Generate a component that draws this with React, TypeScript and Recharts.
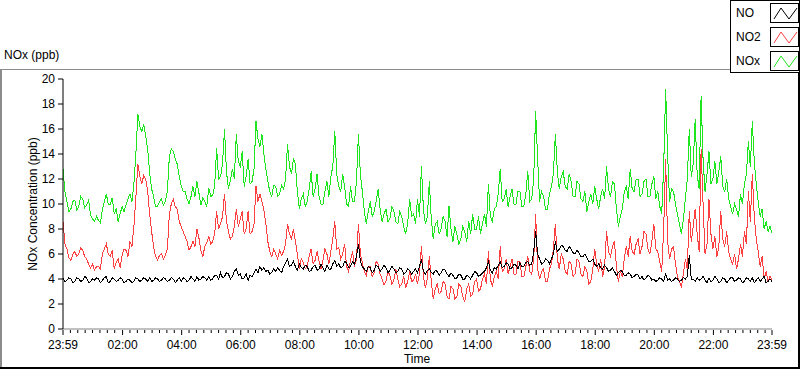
import React from "react";
import { LineChart, Line, XAxis, YAxis, Legend } from "recharts";

// one reading every 4 minutes, from 23:59 to 23:59 the next day (361 readings)
const NO = [
  4.1, 3.8, 3.9, 4.1, 4.0, 3.7, 3.8, 4.1, 4.0, 3.8, 3.9, 4.2, 4.1, 3.7, 3.8, 4.0, 3.9, 4.1, 4.0, 3.7,
  3.9, 4.1, 4.2, 3.7, 3.8, 4.1, 4.0, 3.8, 3.9, 4.1, 4.0, 3.7, 3.8, 4.0, 3.9, 3.7, 3.8, 4.1, 4.0, 3.8,
  3.9, 4.1, 4.0, 3.8, 4.1, 3.8, 3.9, 4.1, 4.0, 3.8, 3.9, 4.1, 4.0, 3.8, 3.9, 4.1, 4.0, 3.7, 3.9, 4.1,
  3.8, 4.1, 4.0, 3.8, 3.9, 4.2, 4.0, 3.8, 4.2, 3.9, 4.0, 4.2, 4.1, 3.9, 4.2, 3.9, 4.0, 4.3, 4.3, 4.0,
  4.5, 4.1, 4.2, 4.5, 4.4, 4.0, 4.2, 4.6, 4.8, 4.3, 4.4, 4.0, 4.1, 4.4, 3.9, 4.3, 4.2, 4.5, 4.8, 4.5,
  5.0, 4.7, 4.9, 4.6, 4.7, 4.4, 4.5, 4.8, 4.6, 4.9, 4.7, 4.5, 5.0, 5.3, 5.6, 5.0, 5.1, 5.4, 5.0, 4.7,
  5.2, 4.9, 4.8, 5.1, 5.0, 4.6, 4.7, 5.0, 5.1, 4.7, 4.8, 5.2, 4.9, 4.6, 5.1, 4.8, 4.8, 5.2, 5.5, 5.0,
  5.2, 4.9, 5.0, 5.4, 5.3, 4.9, 5.0, 5.4, 5.2, 5.8, 6.8, 5.4, 5.0, 4.8, 4.6, 5.0, 4.9, 4.5, 4.7, 5.1,
  5.0, 4.6, 4.8, 5.1, 4.9, 4.5, 4.7, 5.0, 4.8, 4.5, 4.6, 4.9, 4.8, 4.4, 4.5, 4.8, 4.7, 4.4, 4.6, 4.8,
  4.5, 5.0, 5.6, 4.6, 4.4, 4.7, 4.8, 4.5, 4.4, 4.7, 4.6, 4.3, 4.5, 4.8, 4.7, 4.4, 4.2, 4.5, 4.3, 4.0,
  4.1, 4.4, 4.3, 4.0, 4.0, 4.3, 4.2, 4.0, 4.3, 4.6, 4.5, 4.2, 4.3, 4.5, 4.6, 4.9, 5.4, 4.7, 4.5, 4.9,
  4.8, 5.1, 5.4, 4.9, 5.0, 5.3, 5.2, 4.8, 4.9, 5.2, 5.1, 4.8, 5.3, 5.0, 5.0, 5.3, 5.4, 5.1, 5.2, 6.2,
  7.8, 6.0, 5.6, 5.2, 5.3, 5.6, 5.5, 5.2, 5.6, 6.0, 7.0, 6.2, 6.4, 6.7, 6.6, 6.3, 6.2, 6.6, 6.4, 6.1,
  6.0, 6.3, 6.1, 5.8, 5.8, 6.0, 5.7, 5.4, 5.4, 5.6, 5.2, 5.0, 5.2, 4.9, 4.8, 5.1, 4.9, 4.6, 4.7, 4.9,
  4.6, 4.3, 4.5, 4.7, 4.6, 4.3, 4.3, 4.5, 4.4, 4.1, 4.2, 4.4, 4.3, 4.0, 4.2, 3.9, 4.1, 4.3, 4.2, 3.9,
  4.0, 3.8, 3.9, 4.1, 4.0, 3.8, 4.4, 3.9, 4.0, 3.8, 3.9, 4.1, 4.0, 3.8, 3.9, 4.1, 4.0, 4.2, 5.9, 4.0,
  4.0, 3.8, 4.1, 3.9, 4.0, 4.2, 3.9, 3.7, 4.1, 3.8, 3.9, 4.2, 4.0, 3.7, 3.8, 4.1, 4.0, 3.7, 3.9, 4.1,
  4.1, 3.8, 3.9, 4.1, 4.0, 3.7, 3.8, 4.1, 4.0, 3.8, 4.1, 3.7, 3.9, 4.1, 3.8, 4.0, 4.2, 3.7, 3.8, 4.0,
  3.8,
];

const NO2 = [
  8.6, 6.8, 6.4, 5.7, 5.5, 6.0, 6.2, 5.8, 6.0, 6.5, 6.3, 5.8, 5.6, 5.2, 4.9, 5.2, 4.7, 5.0, 5.0, 4.8,
  6.0, 6.4, 6.8, 6.0, 5.8, 6.3, 4.8, 5.3, 5.6, 4.9, 5.9, 6.4, 6.3, 5.8, 7.0, 6.6, 8.2, 10.5, 13.2, 12.2,
  11.6, 12.3, 12.0, 11.0, 9.2, 7.8, 6.6, 5.8, 5.5, 5.9, 6.0, 5.6, 5.9, 6.4, 9.2, 10.0, 10.4, 9.8, 9.6, 8.6,
  8.2, 7.8, 7.4, 7.0, 6.3, 6.6, 7.0, 6.6, 8.0, 7.3, 6.3, 5.8, 6.6, 6.9, 7.4, 6.8, 7.0, 7.6, 9.4, 8.0,
  8.4, 9.0, 10.8, 8.6, 7.8, 7.2, 7.4, 8.2, 9.6, 8.2, 8.8, 9.4, 7.6, 8.0, 9.4, 7.6, 7.8, 8.4, 11.4, 10.2,
  10.8, 10.2, 9.5, 8.4, 7.0, 6.2, 5.8, 6.4, 6.0, 5.6, 6.3, 5.9, 6.2, 6.8, 8.4, 7.6, 7.2, 8.0, 7.0, 6.0,
  4.8, 5.6, 5.3, 4.8, 5.0, 5.8, 6.4, 5.2, 5.5, 6.2, 5.4, 4.8, 5.5, 6.4, 6.0, 5.2, 6.2, 7.2, 8.6, 6.4,
  6.5, 5.6, 6.0, 6.8, 5.0, 4.6, 5.5, 6.2, 5.0, 5.6, 8.4, 6.0, 5.3, 4.6, 4.3, 5.0, 5.0, 4.2, 4.5, 5.4,
  5.2, 4.4, 4.0, 3.5, 3.8, 4.6, 4.3, 3.6, 3.9, 4.8, 4.0, 3.4, 3.6, 4.2, 3.3, 3.8, 4.6, 3.8, 3.9, 4.4,
  3.6, 4.4, 6.6, 4.2, 3.3, 4.0, 5.8, 3.8, 2.4, 3.2, 3.6, 2.8, 3.0, 3.8, 3.6, 2.6, 2.4, 3.4, 3.2, 2.4,
  2.6, 3.6, 3.4, 2.6, 2.2, 3.2, 3.6, 2.6, 2.8, 3.8, 4.0, 3.0, 3.2, 4.0, 4.4, 3.6, 6.2, 4.0, 3.4, 4.2,
  4.6, 4.0, 6.6, 4.6, 4.8, 5.6, 4.4, 5.0, 5.6, 4.4, 4.4, 5.4, 5.4, 4.2, 4.2, 5.0, 5.8, 4.6, 4.4, 5.6,
  9.2, 4.8, 4.0, 4.6, 4.8, 3.8, 3.8, 4.8, 5.2, 6.4, 8.4, 5.6, 4.8, 6.0, 5.6, 4.6, 4.4, 5.4, 5.2, 4.2,
  4.4, 5.6, 5.4, 4.4, 4.2, 5.0, 4.6, 3.6, 3.8, 4.8, 6.4, 5.2, 4.6, 5.6, 4.2, 5.0, 7.8, 6.2, 5.8, 6.6,
  7.0, 5.0, 3.8, 4.6, 4.2, 5.6, 6.6, 5.8, 7.4, 6.2, 6.0, 6.8, 7.2, 6.0, 6.6, 7.8, 7.6, 6.4, 6.0, 7.0,
  8.4, 6.4, 6.2, 5.4, 4.6, 8.0, 13.6, 7.0, 5.6, 6.4, 6.6, 5.2, 4.2, 3.8, 3.4, 4.4, 5.6, 4.8, 9.4, 7.0,
  8.2, 9.6, 7.6, 6.2, 14.4, 10.0, 6.0, 6.8, 10.4, 7.6, 6.4, 7.4, 5.8, 6.6, 9.4, 7.2, 6.6, 7.8, 6.2, 5.6,
  5.2, 6.0, 4.8, 5.6, 6.8, 5.8, 7.8, 6.8, 11.0, 8.6, 12.4, 9.0, 7.2, 6.2, 5.0, 5.8, 4.0, 4.6, 3.8, 4.2,
  3.9,
];

const NOX = [
  12.8, 11.0, 10.2, 9.4, 9.6, 10.2, 10.3, 9.5, 9.8, 10.6, 10.4, 9.7, 9.9, 10.3, 9.1, 8.8, 8.6, 9.0, 8.7, 8.5,
  9.6, 10.2, 10.8, 10.0, 10.0, 10.5, 9.2, 9.6, 8.6, 9.2, 9.8, 9.4, 9.9, 10.4, 10.8, 10.2, 11.6, 14.0, 17.2, 16.2,
  15.8, 16.4, 15.4, 14.4, 12.5, 11.2, 10.6, 9.8, 9.8, 10.2, 10.4, 9.9, 10.2, 11.0, 13.8, 14.4, 14.2, 13.6, 13.2, 12.2,
  11.5, 11.0, 11.0, 10.4, 10.0, 10.6, 11.4, 10.6, 11.8, 10.9, 9.9, 10.5, 10.2, 9.8, 11.3, 10.6, 10.7, 11.4, 14.5, 12.0,
  12.2, 13.2, 16.0, 12.6, 11.2, 11.9, 12.8, 12.0, 15.6, 13.4, 13.0, 14.2, 11.4, 12.2, 13.6, 11.6, 11.8, 12.8, 16.6, 15.2,
  14.6, 15.6, 14.0, 12.8, 11.8, 11.0, 10.6, 11.5, 11.4, 10.6, 10.8, 11.5, 11.2, 12.0, 14.8, 13.0, 12.4, 13.6, 13.2, 11.0,
  9.6, 10.4, 10.8, 9.8, 10.2, 11.2, 12.6, 10.6, 11.2, 12.4, 10.6, 10.0, 10.0, 11.0, 11.8, 10.6, 12.2, 13.0, 15.8, 12.4,
  11.4, 11.0, 12.4, 11.4, 10.0, 9.8, 11.4, 10.2, 10.2, 11.8, 15.6, 12.4, 11.0, 9.4, 8.4, 9.4, 10.2, 9.0, 9.4, 10.2,
  11.2, 9.6, 8.6, 9.2, 9.6, 8.6, 8.8, 9.8, 9.4, 8.6, 8.4, 9.4, 9.0, 8.2, 7.6, 8.4, 10.4, 9.0, 9.2, 8.4,
  10.4, 9.0, 13.0, 9.6, 8.4, 9.0, 11.8, 8.8, 7.2, 8.4, 8.6, 7.6, 8.0, 9.0, 8.6, 7.4, 9.8, 8.0, 7.0, 8.2,
  7.6, 6.8, 7.2, 8.2, 7.8, 7.0, 8.6, 7.6, 9.2, 8.0, 8.0, 9.0, 7.6, 8.4, 9.2, 8.2, 11.6, 9.0, 8.6, 9.6,
  9.8, 10.8, 12.8, 10.2, 10.4, 11.2, 9.8, 10.6, 11.2, 10.0, 10.0, 11.0, 11.0, 9.8, 9.8, 10.8, 12.6, 10.2, 10.4, 12.0,
  17.4, 13.6, 10.2, 11.0, 10.6, 9.6, 9.6, 10.8, 11.4, 12.4, 15.6, 12.6, 11.2, 12.2, 12.6, 11.4, 11.2, 12.4, 11.8, 10.6,
  10.6, 11.8, 11.6, 10.4, 10.2, 11.0, 9.4, 10.2, 10.8, 10.0, 11.4, 10.4, 9.6, 10.6, 11.2, 10.4, 13.0, 11.2, 10.6, 11.8,
  11.6, 9.6, 8.2, 9.0, 9.6, 11.0, 11.4, 10.4, 12.8, 11.2, 11.0, 12.0, 12.0, 10.6, 10.8, 11.8, 12.0, 10.6, 10.6, 11.6,
  12.2, 10.4, 11.0, 9.8, 9.2, 13.0, 19.2, 14.0, 10.2, 11.2, 11.0, 10.0, 9.2, 8.4, 7.6, 8.8, 10.4, 12.0, 16.0, 12.2,
  13.2, 16.8, 12.4, 11.2, 18.6, 13.6, 11.0, 12.4, 14.2, 11.6, 12.0, 13.4, 11.6, 12.6, 13.8, 11.4, 11.0, 12.0, 10.4, 9.8,
  9.2, 10.0, 9.6, 9.0, 10.8, 10.0, 11.6, 12.4, 15.0, 13.0, 16.6, 13.4, 11.6, 10.2, 9.0, 9.6, 8.0, 8.6, 7.8, 8.2,
  7.7,
];

const STEP_MIN = 4;
const MAJOR_TICKS = [0, 121, 241, 361, 481, 601, 721, 841, 961, 1081, 1201, 1321, 1440];
const MAJOR_LABELS = ["23:59", "02:00", "04:00", "06:00", "08:00", "10:00", "12:00", "14:00", "16:00", "18:00", "20:00", "22:00", "23:59"];
const Y_TICKS = [0, 2, 4, 6, 8, 10, 12, 14, 16, 18, 20];

const SERIES = [
  { key: "NO", name: "NO", color: "#000000" },
  { key: "NO2", name: "NO2", color: "#ff4040" },
  { key: "NOx", name: "NOx", color: "#1ee61e" },
];

const data = NO.map((v, i) => ({ t: i * STEP_MIN, NO: v, NO2: NO2[i], NOx: NOX[i] }));

const allTicks: number[] = [];
MAJOR_TICKS.forEach((m, j) => {
  allTicks.push(m);
  if (j < MAJOR_TICKS.length - 1) {
    for (let k = 1; k < 8; k++) allTicks.push(m + k * 15);
  }
});

const FONT = "'Liberation Sans', Arial, sans-serif";

function TimeTick(props: any) {
  const { x, y, payload } = props;
  const idx = MAJOR_TICKS.indexOf(payload.value);
  const major = idx >= 0;
  return (
    <g>
      <line x1={x} x2={x} y1={y + 1} y2={y + (major ? 6 : 4)} stroke="#000" />
      {major && (
        <text x={x} y={y + 20} textAnchor="middle" fontSize={12} fill="#000" fontFamily={FONT}>
          {MAJOR_LABELS[idx]}
        </text>
      )}
    </g>
  );
}

function YLabel() {
  return (
    <text x={37} y={204} transform="rotate(-90 37 204)" textAnchor="middle" fontSize={12} fill="#000" fontFamily={FONT}>
      NOx Concentration (ppb)
    </text>
  );
}

function XLabel() {
  return (
    <text x={417} y={363} textAnchor="middle" fontSize={12} fill="#000" fontFamily={FONT}>
      Time
    </text>
  );
}

function LegendBox() {
  return (
    <div style={{ width: 68, height: 71, border: "1px solid #000", background: "#fff", fontFamily: FONT, fontSize: 12 }}>
      {SERIES.map((s) => (
        <div key={s.key} style={{ display: "flex", alignItems: "center", height: 24 }}>
          <span style={{ width: 36, paddingLeft: 5, color: "#000" }}>{s.name}</span>
          <svg width={28} height={18} style={{ border: "1px solid #000", display: "block" }}>
            <polyline points="3,15 10,4 18,15 26,4" fill="none" stroke={s.color} />
          </svg>
        </div>
      ))}
    </div>
  );
}

export default function App() {
  return (
    <div style={{ position: "fixed", left: 0, top: 0, width: 800, height: 369, background: "#fff", fontFamily: FONT }}>
      <div style={{ position: "absolute", left: 0, top: 69, width: 731, height: 1, background: "#8c8c8c" }} />
      <div style={{ position: "absolute", left: 0, top: 69, width: 2, height: 300, background: "#8c8c8c" }} />
      <div style={{ position: "absolute", left: 0, top: 367, width: 800, height: 2, background: "#000" }} />
      <div style={{ position: "absolute", left: 798, top: 72, width: 2, height: 297, background: "#000" }} />
      <div style={{ position: "absolute", left: 4, top: 48, fontSize: 12, color: "#000" }}>NOx (ppb)</div>
      <div style={{ position: "absolute", left: 0, top: 0 }}>
        <LineChart width={800} height={369} data={data} margin={{ top: 79, right: 28, bottom: 0, left: 0 }}>
          <XAxis
            dataKey="t"
            type="number"
            domain={[0, 1440]}
            ticks={allTicks}
            interval={0}
            tickSize={0}
            tickMargin={0}
            tick={<TimeTick />}
            stroke="#808080"
            height={40}
            label={<XLabel />}
          />
          <XAxis xAxisId="top" orientation="top" dataKey="t" type="number" domain={[0, 1440]} height={0} tick={false} tickLine={false} stroke="#000" />
          <YAxis
            type="number"
            domain={[0, 20]}
            ticks={Y_TICKS}
            interval={0}
            tickSize={5}
            tickMargin={3}
            width={63}
            stroke="#000"
            tick={{ fill: "#000", fontSize: 12, fontFamily: FONT }}
            label={<YLabel />}
          />
          <YAxis yAxisId="right" orientation="right" type="number" domain={[0, 20]} width={0} tick={false} tickLine={false} stroke="#808080" />
          <Line dataKey="NOx" name="NOx" stroke="#1ee61e" strokeWidth={1} dot={false} isAnimationActive={false} shapeRendering="crispEdges" />
          <Line dataKey="NO2" name="NO2" stroke="#ff4040" strokeWidth={1} dot={false} isAnimationActive={false} shapeRendering="crispEdges" />
          <Line dataKey="NO" name="NO" stroke="#000000" strokeWidth={1} dot={false} isAnimationActive={false} shapeRendering="crispEdges" />
          <Legend
            layout="vertical"
            align="center"
            verticalAlign="middle"
            content={<LegendBox />}
            wrapperStyle={{ position: "absolute", left: 730, top: 0, width: 70, height: 73 }}
          />
        </LineChart>
      </div>
    </div>
  );
}
